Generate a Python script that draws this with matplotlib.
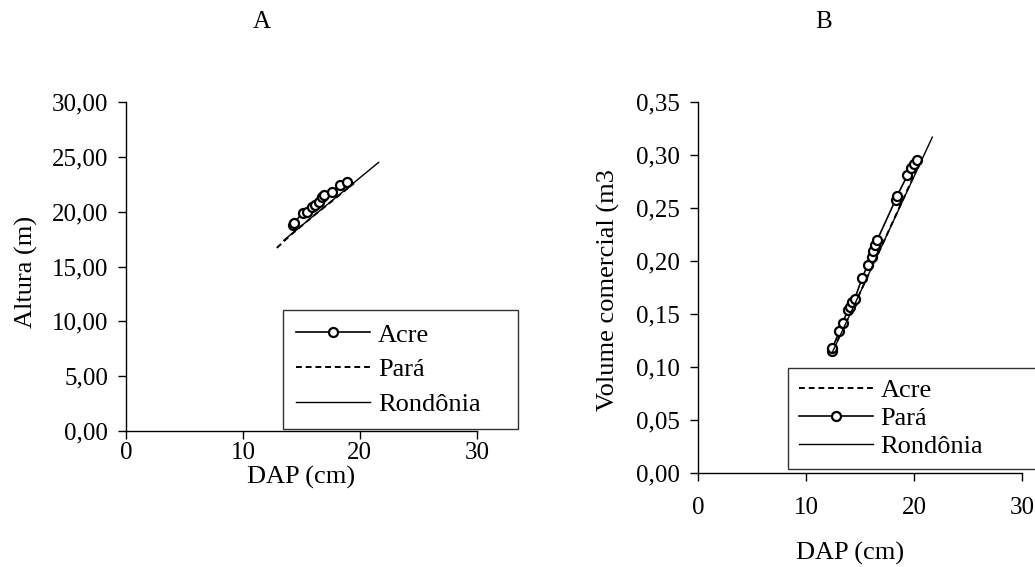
import matplotlib.pyplot as plt
from matplotlib.ticker import FuncFormatter

plt.rcParams['font.family'] = ['Liberation Serif', 'DejaVu Serif']

# Painel A: altura x DAP
acre_dap_a = [14.3, 14.4, 15.1, 15.5, 15.9, 16.2, 16.5, 16.8, 16.9, 17.6, 18.3, 18.9]
acre_alt_a = [18.8, 19.0, 19.9, 20.0, 20.4, 20.6, 20.9, 21.3, 21.5, 21.8, 22.4, 22.7]
para_dap_a = [12.9, 14.0, 16.0, 18.0, 19.5]
para_alt_a = [16.7, 17.8, 19.6, 21.3, 22.6]
ron_dap_a = [13.5, 21.6]
ron_alt_a = [17.4, 24.5]

# Painel B: volume comercial x DAP
acre_dap_b = [12.5, 15.0, 17.5, 20.5]
acre_vol_b = [0.116, 0.170, 0.225, 0.292]
para_dap_b = [12.4, 12.45, 13.1, 13.4, 13.9, 14.1, 14.3, 14.5, 15.2, 15.7,
              16.1, 16.2, 16.4, 16.6, 18.3, 18.4, 19.4, 19.7, 20.0, 20.3]
para_vol_b = [0.115, 0.118, 0.134, 0.142, 0.154, 0.157, 0.161, 0.164, 0.184, 0.196,
              0.204, 0.210, 0.215, 0.220, 0.258, 0.261, 0.281, 0.288, 0.292, 0.295]
ron_dap_b = [12.4, 21.7]
ron_vol_b = [0.113, 0.317]

xticks = [0, 10, 20, 30]
yticks_a = [0, 5, 10, 15, 20, 25, 30]
yticks_b = [0, 0.05, 0.10, 0.15, 0.20, 0.25, 0.30, 0.35]
labels_a = ['Acre', 'Pará', 'Rondônia']
labels_b = ['Acre', 'Pará', 'Rondônia']

mk = dict(marker='o', markersize=6.5, markerfacecolor='white', markeredgecolor='black', markeredgewidth=1.6)
comma = FuncFormatter(lambda v, p: f'{v:.2f}'.replace('.', ','))

fig = plt.figure(figsize=(10.35, 5.67), dpi=100)
ax1 = fig.add_axes([0.1217, 0.2399, 0.339, 0.580])
ax2 = fig.add_axes([0.6744, 0.1658, 0.313, 0.654])


def style(ax):
    for s in ['top', 'right']:
        ax.spines[s].set_visible(False)
    for s in ['left', 'bottom']:
        ax.spines[s].set_linewidth(1.0)
    ax.tick_params(direction='out', length=6, width=1, labelsize=18, pad=7)
    ax.set_xticks(xticks)
    ax.set_xlim(0, 30)
    ax.yaxis.set_major_formatter(comma)


def legend(ax, handles, labels, anchor, spacing, pad):
    leg = ax.legend(handles, labels, loc='lower left', bbox_to_anchor=anchor, mode='expand',
                    fontsize=19, numpoints=1, handlelength=2.8, handletextpad=0.3,
                    labelspacing=spacing, borderpad=pad, borderaxespad=0,
                    alignment='center', fancybox=False, edgecolor='#333333', framealpha=1)
    leg.get_frame().set_linewidth(1.0)
    return leg


# A
l1, = ax1.plot(acre_dap_a, acre_alt_a, color='black', lw=1.2, **mk)
l2, = ax1.plot(para_dap_a, para_alt_a, color='black', lw=1.4, ls=(0, (3, 2)))
l3, = ax1.plot(ron_dap_a, ron_alt_a, color='black', lw=1.0)
style(ax1)
ax1.set_ylim(0, 30)
ax1.set_yticks(yticks_a)
ax1.tick_params(axis='x', pad=2)
ax1.set_ylabel('Altura (m)', fontsize=19)
ax1.yaxis.set_label_coords(-0.25, 0.483)
ax1.set_xlabel('DAP (cm)', fontsize=19)
ax1.xaxis.set_label_coords(0.5, -0.105)
legend(ax1, [l1, l2, l3], labels_a, (0.447, 0.006, 0.67, 0.353), 0.42, 0.5)

# B
m1, = ax2.plot(acre_dap_b, acre_vol_b, color='black', lw=1.4, ls=(0, (3, 2)))
m2, = ax2.plot(para_dap_b, para_vol_b, color='black', lw=1.2, **mk)
m3, = ax2.plot(ron_dap_b, ron_vol_b, color='black', lw=1.0)
style(ax2)
ax2.set_ylim(0, 0.35)
ax2.set_yticks(yticks_b)
ax2.set_ylabel('Volume comercial (m3', fontsize=19)
ax2.yaxis.set_label_coords(-0.24, 0.493)
ax2.set_xlabel('DAP (cm)', fontsize=19)
ax2.xaxis.set_label_coords(0.469, -0.186)
ax2.tick_params(axis='x', pad=11)
legend(ax2, [m1, m2, m3], labels_b, (0.278, 0.011, 0.80, 0.264), 0.18, 0.4)

fig.text(262 / 1035, 1 - 22 / 567, 'A', fontsize=18, ha='center', va='center')
fig.text(824 / 1035, 1 - 22 / 567, 'B', fontsize=18, ha='center', va='center')

fig.savefig('out.png', dpi=100)
